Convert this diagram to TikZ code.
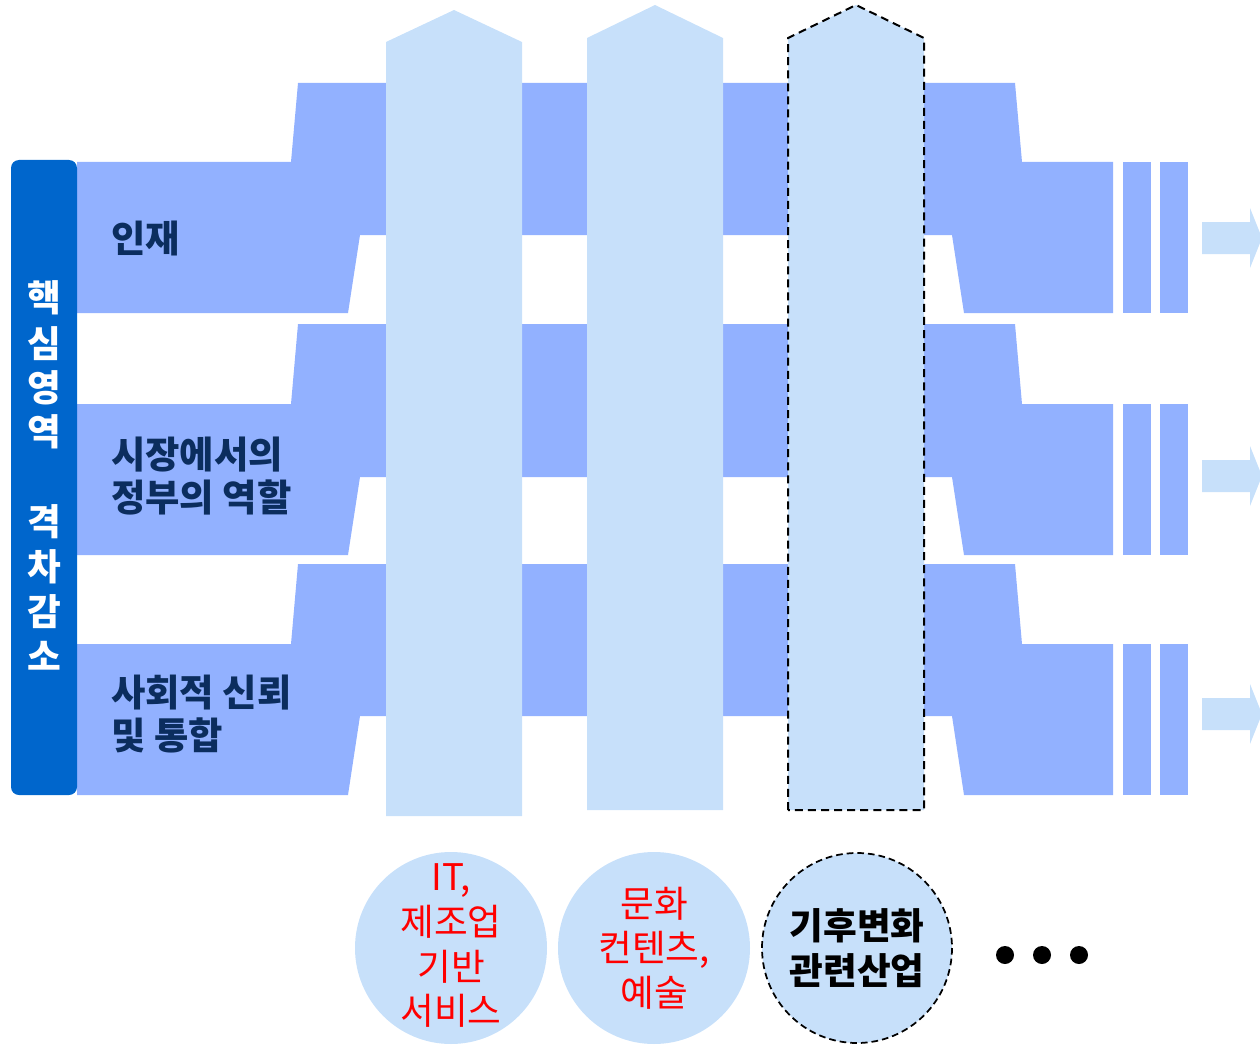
\documentclass[tikz,border=0pt]{standalone}
\usepackage{fontspec}
\setmainfont{Noto Sans CJK KR}
\usetikzlibrary{shapes.geometric}
\definecolor{bandc}{HTML}{92B1FF}
\definecolor{colc}{HTML}{C7E0FA}
\definecolor{sidec}{HTML}{0066CC}
\definecolor{navy}{HTML}{0B2D5E}
\definecolor{redc}{HTML}{FF0000}
\tikzset{
  band/.style={fill=bandc,draw=none},
  colshape/.style={fill=colc,draw=none},
  dashline/.style={draw=black,line width=1.5pt,dash pattern=on 6pt off 3.8pt},
  arrowc/.style={fill=colc,draw=none},
  sidechar/.style={text=white,font=\fontsize{27.5}{27.5}\selectfont\bfseries,inner sep=0pt},
  lbl/.style={text=navy,font=\fontsize{28}{32}\selectfont\bfseries,anchor=west,align=left,inner sep=0pt},
  ctext/.style={font=\fontsize{27.5}{33.5}\selectfont,align=center,inner sep=0pt},
  dotc/.style={fill=black,draw=none}
}
\begin{document}
\begin{tikzpicture}[x=0.75pt,y=-0.75pt]
\useasboundingbox (0,0) rectangle (1260,1052);
% bands
\foreach \T/\R/\M/\B in {83/162/235/313, 324/404/477/555, 564/644/716/795}{
  \path[band] (77,\R) -- (291,\R) -- (298,\T) -- (1015,\T) -- (1022,\R) -- (1113,\R) -- (1113,\B) -- (964,\B) -- (952,\M) -- (360,\M) -- (348,\B) -- (77,\B) -- cycle;
  \path[band] (1123,\R) rectangle (1151,\B);
  \path[band] (1160,\R) rectangle (1188,\B);
}
% arrows
\foreach \c in {238,476,714}{
  \path[arrowc] (1202,\c-16) -- (1250,\c-16) -- (1250,\c-30) -- (1262,\c) -- (1250,\c+30) -- (1250,\c+16) -- (1202,\c+16) -- cycle;
}
% columns
\path[colshape] (386,816) -- (386,42) -- (454,10) -- (522,42) -- (522,816) -- cycle;
\path[colshape] (587,810) -- (587,38) -- (655,5) -- (723,38) -- (723,810) -- cycle;
\path[colshape] (788,810) -- (788,38) -- (856,5) -- (924,38) -- (924,810) -- cycle;
\draw[dashline] (788,810) -- (788,38) -- (856,5) -- (924,38) -- (924,810) -- cycle;
% sidebar
\fill[sidec,rounded corners=6pt] (11,160) rectangle (77,795);
\node[sidechar] (s1) at (44,298) {핵};
\node[sidechar] (s2) at (44,344) {심};
\node[sidechar] (s3) at (44,388) {영};
\node[sidechar] (s4) at (44,432) {역};
\node[sidechar] (s5) at (44,522) {격};
\node[sidechar] (s6) at (44,567) {차};
\node[sidechar] (s7) at (44,612) {감};
\node[sidechar] (s8) at (44,656) {소};
% labels
\node[lbl] (l1) at (111,238) {인재};
\node[lbl] (l2) at (111,476) {시장에서의\\정부의 역할};
\node[lbl] (l3) at (111,714) {사회적 신뢰\\및 통합};
% circles
\fill[colc] (451,948) circle [radius=96];
\fill[colc] (654,948) circle [radius=96];
\fill[colc] (857,948) circle [radius=95];
\draw[draw=black,line width=1.3pt,dash pattern=on 5pt off 3pt] (857,948) circle [radius=95];
\node[ctext,text=redc] (c1) at (451,946) {IT,\\제조업\\기반\\서비스};
\node[ctext,text=redc] (c2) at (654,948) {문화\\컨텐츠,\\예술};
\node[ctext,text=black,font=\fontsize{27.5}{33.5}\selectfont\bfseries] (c3) at (857,948) {기후변화\\관련산업};
% dots
\fill[dotc] (1005,955) circle [radius=9];
\fill[dotc] (1042,955) circle [radius=9];
\fill[dotc] (1079,955) circle [radius=9];
\end{tikzpicture}
\end{document}
